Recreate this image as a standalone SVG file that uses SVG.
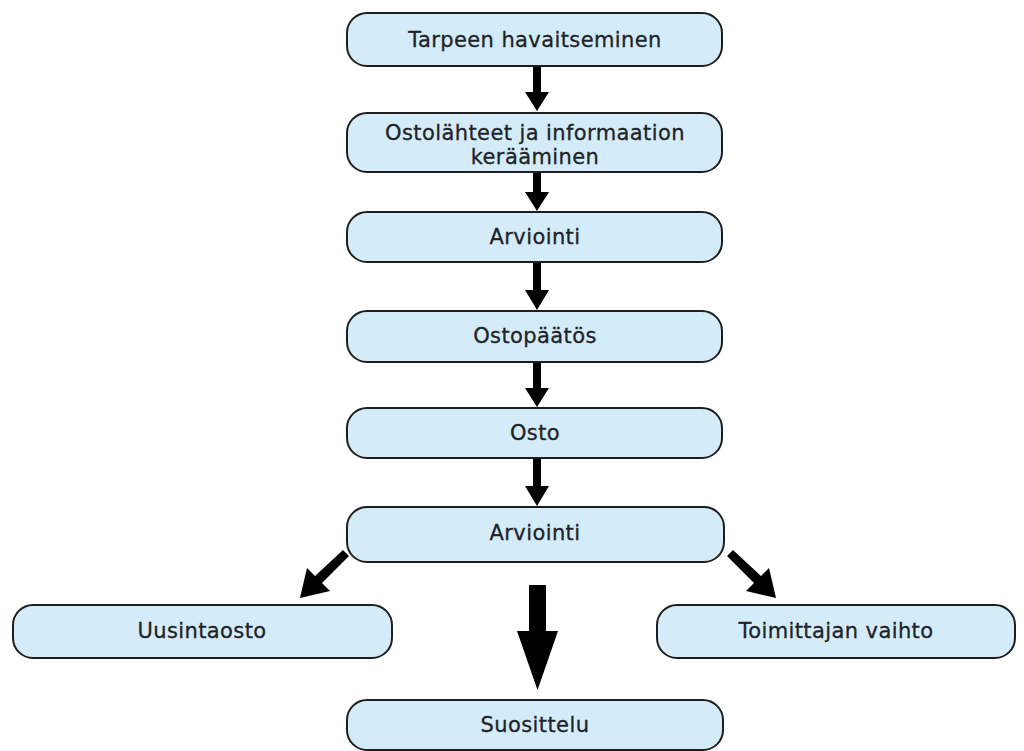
<svg xmlns="http://www.w3.org/2000/svg" width="1024" height="751" viewBox="0 0 1024 751">
<style>
.box{fill:#d4ecf9;stroke:#1e1e1e;stroke-width:2}
.t{font-family:"DejaVu Sans",Verdana,sans-serif;font-size:21px;letter-spacing:0.4px;fill:#1e2328;stroke:#1e2328;stroke-width:0.3;text-anchor:middle}
.arr{fill:#000}
</style>
<rect width="1024" height="751" fill="#fff"/>
<g id="connectors">
<path class="arr" d="M533,66 H541 V92 H549 L537,111 L525,92 H533 Z"/>
<path class="arr" d="M533,172 H541 V192 H549 L537,211 L525,192 H533 Z"/>
<path class="arr" d="M533,262 H541 V290 H549 L537,310 L525,290 H533 Z"/>
<path class="arr" d="M533,362 H541 V388 H549 L537,407 L525,388 H533 Z"/>
<path class="arr" d="M533,458 H541 V486 H549 L537,506 L525,486 H533 Z"/>
<path class="arr" d="M529,585 H546 V631 H558 L537.5,690 L517,631 H529 Z"/>
<path class="arr" d="M343,550 L349,556 L322,583 L330,591 L300,598 L307,568 L315,576 Z"/>
<path class="arr" d="M733,550 L727,556 L754,583 L746,591 L776,598 L769,568 L761,576 Z"/>
</g>
<g id="n1"><rect class="box" x="347" y="13" width="375" height="53" rx="20"/><text class="t" x="535" y="47">Tarpeen havaitseminen</text></g>
<g id="n2"><rect class="box" x="347" y="113" width="375" height="59" rx="20"/><text class="t" x="535" y="140">Ostolähteet ja informaation</text><text class="t" x="535" y="164">kerääminen</text></g>
<g id="n3"><rect class="box" x="347" y="212" width="375" height="50" rx="20"/><text class="t" x="535" y="244">Arviointi</text></g>
<g id="n4"><rect class="box" x="347" y="311" width="375" height="51" rx="20"/><text class="t" x="535" y="343">Ostopäätös</text></g>
<g id="n5"><rect class="box" x="347" y="408" width="375" height="50" rx="20"/><text class="t" x="535" y="440">Osto</text></g>
<g id="n6"><rect class="box" x="347" y="507" width="377" height="55" rx="20"/><text class="t" x="535" y="540">Arviointi</text></g>
<g id="n7"><rect class="box" x="13" y="605" width="379" height="53" rx="20"/><text class="t" x="202" y="638">Uusintaosto</text></g>
<g id="n8"><rect class="box" x="657" y="605" width="358" height="53" rx="20"/><text class="t" x="836" y="638">Toimittajan vaihto</text></g>
<g id="n9"><rect class="box" x="347" y="700" width="376" height="50" rx="20"/><text class="t" x="535" y="732">Suosittelu</text></g>
</svg>
